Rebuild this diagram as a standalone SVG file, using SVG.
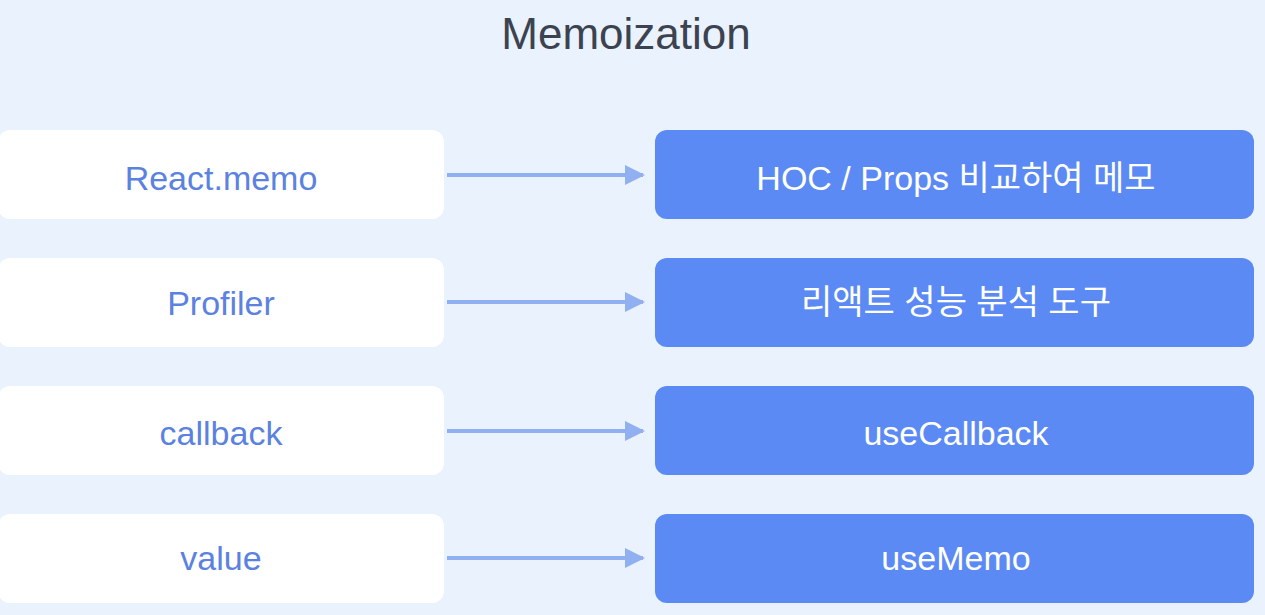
<svg xmlns="http://www.w3.org/2000/svg" width="1265" height="615" viewBox="0 0 1265 615">
<defs>
<style>
.bg{fill:#eaf2fd}
.lbox{fill:#ffffff}
.rbox{fill:#5b8af5}
.lt{font-family:"Liberation Sans",Arial,sans-serif;font-size:34px;fill:#5b82e0;text-anchor:middle;dominant-baseline:central}
.rt{font-family:"Liberation Sans","Noto Sans CJK KR",sans-serif;font-size:34px;fill:#ffffff;text-anchor:middle;dominant-baseline:central}
.title{font-family:"Liberation Sans",Arial,sans-serif;font-size:44px;fill:#3c4350;text-anchor:middle}
.conn{stroke:#90b0f2;stroke-width:4;fill:none}
</style>
<marker id="ah" viewBox="0 0 10 10" refX="9" refY="5" markerWidth="5" markerHeight="5.5" markerUnits="strokeWidth" orient="auto">
<path d="M0,0 L10,5 L0,10 Z" fill="#90b0f2"/>
</marker>
</defs>
<rect class="bg" x="0" y="0" width="1265" height="615"/>
<text class="title" x="626" y="49">Memoization</text>
<g id="n1"><rect class="lbox" x="-2" y="130" width="446" height="89" rx="12"/><text class="lt" x="221" y="178">React.memo</text></g>
<g id="n2"><rect class="lbox" x="-2" y="258" width="446" height="89" rx="12"/><text class="lt" x="221" y="303">Profiler</text></g>
<g id="n3"><rect class="lbox" x="-2" y="386" width="446" height="89" rx="12"/><text class="lt" x="221" y="433">callback</text></g>
<g id="n4"><rect class="lbox" x="-2" y="514" width="446" height="89" rx="12"/><text class="lt" x="221" y="558">value</text></g>
<g id="m1"><rect class="rbox" x="655" y="130" width="599" height="89" rx="12"/><text class="rt" x="956" y="178">HOC / Props 비교하여 메모</text></g>
<g id="m2"><rect class="rbox" x="655" y="258" width="599" height="89" rx="12"/><text class="rt" x="956" y="302">리액트 성능 분석 도구</text></g>
<g id="m3"><rect class="rbox" x="655" y="386" width="599" height="89" rx="12"/><text class="rt" x="956" y="433">useCallback</text></g>
<g id="m4"><rect class="rbox" x="655" y="514" width="599" height="89" rx="12"/><text class="rt" x="956" y="558">useMemo</text></g>
<g id="connectors">
<line class="conn" x1="447" y1="175" x2="643" y2="175" marker-end="url(#ah)"/>
<line class="conn" x1="447" y1="302" x2="643" y2="302" marker-end="url(#ah)"/>
<line class="conn" x1="447" y1="431" x2="643" y2="431" marker-end="url(#ah)"/>
<line class="conn" x1="447" y1="558" x2="643" y2="558" marker-end="url(#ah)"/>
</g>
</svg>
